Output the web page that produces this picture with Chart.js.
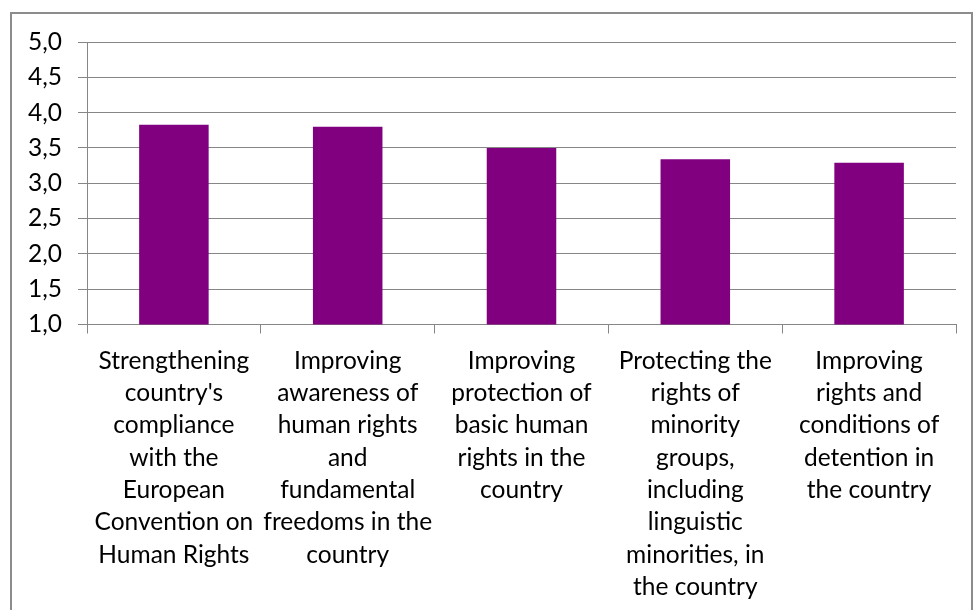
<!DOCTYPE html>
<html>
<head>
<meta charset="utf-8">
<script src="https://cdn.jsdelivr.net/npm/chart.js@4/dist/chart.umd.min.js"></script>
<style>
    body { margin: 0; background: #fff; }
    #wrap { position: relative; width: 973px; height: 610px; overflow: hidden; }
    #frame { position: absolute; left: 10px; top: 12px; width: 959px; height: 620px; border: 2px solid #8c8c8c; }
    #chart { position: absolute; left: 0; top: 0; }
</style>
</head>
<body>
<div id="wrap">
    <div id="frame"></div>
    <canvas id="chart" width="973" height="610"></canvas>
</div>
<script>
// Kategorier (en rad per element)
const categories = [
    ["Strengthening", "country's", "compliance", "with the", "European", "Convention on", "Human Rights"],
    ["Improving", "awareness of", "human rights", "and", "fundamental", "freedoms in the", "country"],
    ["Improving", "protection of", "basic human", "rights in the", "country"],
    ["Protecting the", "rights of", "minority", "groups,", "including", "linguistic", "minorities, in", "the country"],
    ["Improving", "rights and", "conditions of", "detention in", "the country"]
];
const scores = [3.83, 3.80, 3.50, 3.34, 3.29];

const yMin = 1;
const yMax = 5;
const yStep = 0.5;

const gridColor = '#868686';
const labelFont = { family: 'Lato', size: 24.5, lineHeight: 1.32 };
const tickFont = { family: 'Lato', size: 24.5, lineHeight: 1.2 };

function formatTick(val) {
    return Number(val).toFixed(1).replace('.', ',');
}

const ctx = document.getElementById('chart').getContext('2d');
new Chart(ctx, {
    type: 'bar',
    data: {
        labels: categories,
        datasets: [
            { data: scores, backgroundColor: '#800080', borderWidth: 0, categoryPercentage: 1, barPercentage: 0.4 }
        ]
    },
    options: {
        responsive: false,
        animation: false,
        layout: { padding: { top: 42, right: 17, left: 0, bottom: 0 } },
        plugins: { legend: { display: false }, tooltip: { enabled: false } },
        scales: {
            x: {
                grid: { drawOnChartArea: false, drawTicks: true, tickLength: 9, color: gridColor, lineWidth: 1 },
                border: { color: gridColor, width: 1 },
                ticks: { color: '#000', font: labelFont, padding: 11, maxRotation: 0, autoSkip: false },
                afterFit: scale => { scale.height = 285.5; }
            },
            y: {
                min: yMin,
                max: yMax,
                grid: { color: gridColor, lineWidth: 1, tickLength: 9 },
                border: { color: gridColor, width: 1 },
                ticks: { stepSize: yStep, autoSkip: false, color: '#000', font: tickFont, padding: 16, callback: formatTick },
                afterFit: scale => { scale.width = 87; }
            }
        }
    }
});
</script>
</body>
</html>
